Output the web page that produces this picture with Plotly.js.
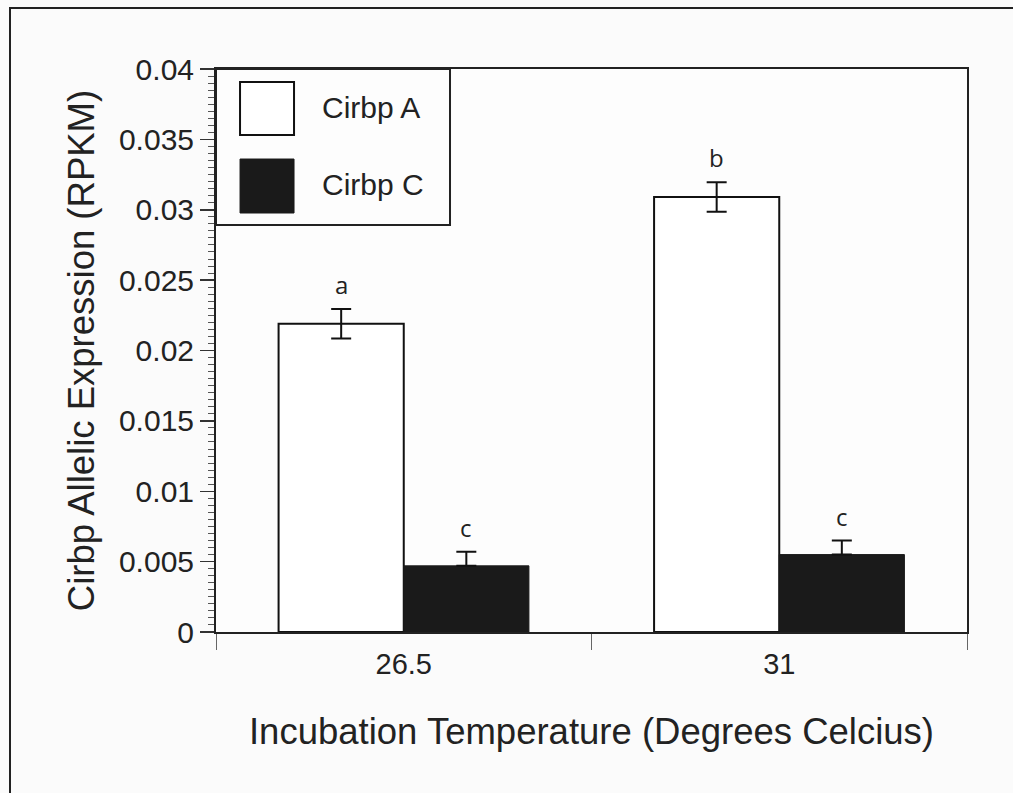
<!DOCTYPE html>
<html>
<head>
<meta charset="utf-8">
<script src="https://cdn.plot.ly/plotly-3.0.1.min.js"></script>
<style>
  html, body { margin: 0; padding: 0; background: #fbfbfb; }
  #wrap { position: relative; width: 1013px; height: 793px; }
  #chart { width: 1013px; height: 793px; }
  #frame { position: absolute; left: 9px; top: 7px; width: 1100px; height: 900px;
           border-left: 2px solid #222; border-top: 2px solid #222; pointer-events: none; }
</style>
</head>
<body>
<div id="wrap">
  <div id="chart"></div>
  <div id="frame"></div>
</div>
<script>
// ---- data ----
const categories = ['26.5', '31'];
const seriesNames = ['Cirbp A', 'Cirbp C'];
const cirbpA = [0.0219, 0.0309];
const cirbpAErr = [0.00105, 0.00105];
const cirbpC = [0.0047, 0.0055];
const cirbpCErrUp = [0.001, 0.001];
const cirbpCErrDown = [0, 0];
const lettersA = ['a', 'b'];
const lettersC = ['c', 'c'];
const yTickVals = [0, 0.005, 0.01, 0.015, 0.02, 0.025, 0.03, 0.035, 0.04];
const xTitle = 'Incubation Temperature (Degrees Celcius)';
const yTitle = 'Cirbp Allelic Expression (RPKM)';

const FONT = 'Liberation Sans, Arial, Helvetica, sans-serif';
const TXT = '#222';

const traces = [
  {
    type: 'bar', name: seriesNames[0], x: categories, y: cirbpA,
    marker: { color: '#ffffff', line: { color: '#111', width: 2 } },
    error_y: { type: 'data', array: cirbpAErr, visible: true, color: '#111', thickness: 2, width: 10 },
    showlegend: false, hoverinfo: 'x+y'
  },
  {
    type: 'bar', name: seriesNames[1], x: categories, y: cirbpC,
    marker: { color: '#1a1a1a', line: { color: '#1a1a1a', width: 1 } },
    error_y: { type: 'data', symmetric: false, array: cirbpCErrUp, arrayminus: cirbpCErrDown,
               visible: true, color: '#111', thickness: 2, width: 10 },
    showlegend: false, hoverinfo: 'x+y'
  }
];

// significance letters above error bars (grouped bar offset: +-1/6 category)
const letterFont = { family: 'Open Sans, Noto Sans, sans-serif', size: 24, color: TXT };
const annotations = [];
categories.forEach((c, i) => {
  annotations.push({ x: i - 1/6, y: cirbpA[i] + cirbpAErr[i], xref: 'x', yref: 'y',
    text: lettersA[i], showarrow: false, yanchor: 'bottom', yshift: 6, font: letterFont });
  annotations.push({ x: i + 1/6, y: cirbpC[i] + cirbpCErrUp[i], xref: 'x', yref: 'y',
    text: lettersC[i], showarrow: false, yanchor: 'bottom', yshift: 6, font: letterFont });
});

// custom legend (large swatches)
const legendText = [
  { name: seriesNames[0], y: 0.9325 },
  { name: seriesNames[1], y: 0.7957 }
];
legendText.forEach(l => annotations.push({
  x: 0.1385, y: l.y, xref: 'paper', yref: 'paper', text: l.name, showarrow: false,
  xanchor: 'left', yanchor: 'middle', font: { family: FONT, size: 30, color: TXT }
}));

const shapes = [
  { type: 'rect', xref: 'paper', yref: 'paper', x0: 0, x1: 0.3116, y0: 0.7229, y1: 1,
    fillcolor: '#fdfdfd', line: { color: '#222', width: 2 } },
  { type: 'rect', xref: 'paper', yref: 'paper', x0: 0.032, x1: 0.1039, y0: 0.8828, y1: 0.9769,
    fillcolor: '#ffffff', line: { color: '#111', width: 2 } },
  { type: 'rect', xref: 'paper', yref: 'paper', x0: 0.032, x1: 0.1039, y0: 0.7442, y1: 0.8401,
    fillcolor: '#1a1a1a', line: { color: '#1a1a1a', width: 1 } }
];

const layout = {
  width: 1013, height: 793,
  margin: { l: 216, r: 46, t: 69, b: 161, pad: 0 },
  paper_bgcolor: '#fbfbfb', plot_bgcolor: '#fdfdfd',
  barmode: 'group', bargap: 1/3, bargroupgap: 0,
  font: { family: FONT, color: TXT },
  xaxis: {
    type: 'category', range: [-0.5, 1.5],
    showline: true, linecolor: '#222', linewidth: 2, mirror: true,
    ticks: 'outside', tickson: 'boundaries', ticklen: 16, tickwidth: 1, tickcolor: '#666',
    tickfont: { family: FONT, size: 29, color: TXT }, ticklabelstandoff: 5,
    showgrid: false, zeroline: false,
    title: { text: xTitle, font: { family: FONT, size: 36.5, color: TXT }, standoff: 40 }
  },
  yaxis: {
    range: [0, 0.04], tickvals: yTickVals,
    showline: true, linecolor: '#222', linewidth: 2, mirror: true,
    ticks: 'outside', ticklen: 14, tickwidth: 1.5, tickcolor: '#333',
    minor: { dtick: 0.0005, ticks: 'outside', ticklen: 6, tickwidth: 1, tickcolor: '#555', showgrid: false },
    tickfont: { family: FONT, size: 30, color: TXT },
    showgrid: false, zeroline: false,
    title: { text: yTitle, font: { family: FONT, size: 36.5, color: TXT }, standoff: 13 }
  },
  showlegend: false,
  annotations: annotations,
  shapes: shapes
};

Plotly.newPlot('chart', traces, layout, { displayModeBar: false, staticPlot: true });
</script>
</body>
</html>
